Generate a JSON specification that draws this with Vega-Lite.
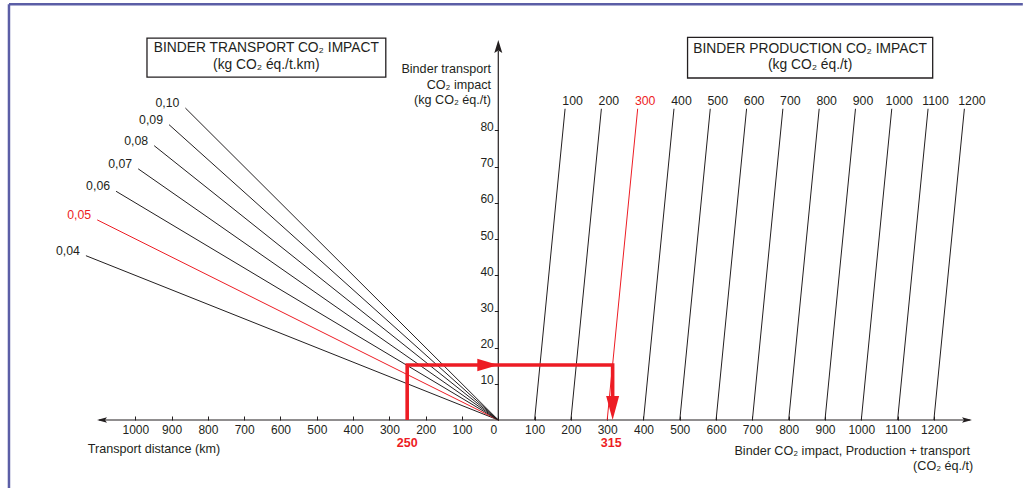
{
  "$schema": "https://vega.github.io/schema/vega-lite/v6.json",
  "usermeta": {"embedOptions": {"actions": false}},
  "autosize": {"type": "none"},
  "width": 875,
  "height": 380,
  "padding": {"left": 97, "top": 40, "right": 51, "bottom": 68},
  "background": "white",
  "config": {"view": {"stroke": null}, "font": "Liberation Sans"},
  "datasets": {
    "transport": [
      {"c": "0,04", "ex": "no", "x": 0, "y": 0}, {"c": "0,04", "ex": "no", "x": -1136, "y": 45.4},
      {"c": "0,05", "ex": "yes", "x": 0, "y": 0}, {"c": "0,05", "ex": "yes", "x": -1105, "y": 55.3},
      {"c": "0,06", "ex": "no", "x": 0, "y": 0}, {"c": "0,06", "ex": "no", "x": -1053, "y": 63.2},
      {"c": "0,07", "ex": "no", "x": 0, "y": 0}, {"c": "0,07", "ex": "no", "x": -992, "y": 69.4},
      {"c": "0,08", "ex": "no", "x": 0, "y": 0}, {"c": "0,08", "ex": "no", "x": -948, "y": 75.8},
      {"c": "0,09", "ex": "no", "x": 0, "y": 0}, {"c": "0,09", "ex": "no", "x": -907, "y": 81.6},
      {"c": "0,10", "ex": "no", "x": 0, "y": 0}, {"c": "0,10", "ex": "no", "x": -862, "y": 86.2}
    ],
    "production": [
      {"p": "100", "ex": "no", "x": 100, "y": 0}, {"p": "100", "ex": "no", "x": 184, "y": 86},
      {"p": "200", "ex": "no", "x": 200, "y": 0}, {"p": "200", "ex": "no", "x": 284, "y": 86},
      {"p": "300", "ex": "yes", "x": 300, "y": 0}, {"p": "300", "ex": "yes", "x": 384, "y": 86},
      {"p": "400", "ex": "no", "x": 400, "y": 0}, {"p": "400", "ex": "no", "x": 484, "y": 86},
      {"p": "500", "ex": "no", "x": 500, "y": 0}, {"p": "500", "ex": "no", "x": 584, "y": 86},
      {"p": "600", "ex": "no", "x": 600, "y": 0}, {"p": "600", "ex": "no", "x": 684, "y": 86},
      {"p": "700", "ex": "no", "x": 700, "y": 0}, {"p": "700", "ex": "no", "x": 784, "y": 86},
      {"p": "800", "ex": "no", "x": 800, "y": 0}, {"p": "800", "ex": "no", "x": 884, "y": 86},
      {"p": "900", "ex": "no", "x": 900, "y": 0}, {"p": "900", "ex": "no", "x": 984, "y": 86},
      {"p": "1000", "ex": "no", "x": 1000, "y": 0}, {"p": "1000", "ex": "no", "x": 1084, "y": 86},
      {"p": "1100", "ex": "no", "x": 1100, "y": 0}, {"p": "1100", "ex": "no", "x": 1184, "y": 86},
      {"p": "1200", "ex": "no", "x": 1200, "y": 0}, {"p": "1200", "ex": "no", "x": 1284, "y": 86}
    ],
    "redpath": [
      {"s": 1, "x": -251, "y": 0}, {"s": 2, "x": -251, "y": 15.2},
      {"s": 3, "x": 315, "y": 15.2}, {"s": 4, "x": 315, "y": 5}
    ],
    "frame": [
      {"x": -1348, "x2": 1445, "y": 114.9, "y2": 114.9},
      {"x": -1348, "x2": -1348, "y": 114.9, "y2": -18.8}
    ],
    "axislines": [
      {"x": -1100, "x2": 1300, "y": 0, "y2": 0},
      {"x": 0, "x2": 0, "y": 0, "y2": 102}
    ],
    "boxes": [
      {"x": -967.8, "x2": -309.9, "y": 105.5, "y2": 94.75},
      {"x": 521.4, "x2": 1196.7, "y": 105.7, "y2": 94.5}
    ],
    "boxtitles": [
      {"x": -639, "y": 102.7, "label": "BINDER TRANSPORT CO₂ IMPACT"},
      {"x": -639, "y": 98.2, "label": "(kg CO₂ éq./t.km)"},
      {"x": 859, "y": 102.5, "label": "BINDER PRODUCTION CO₂ IMPACT"},
      {"x": 859, "y": 98.0, "label": "(kg CO₂ éq./t)"}
    ],
    "ytitle": [
      {"x": -20, "y": 97.0, "label": "Binder transport"},
      {"x": -20, "y": 92.6, "label": "CO₂ impact"},
      {"x": -20, "y": 88.4, "label": "(kg CO₂ éq./t)"}
    ],
    "xtitleleft": [
      {"x": -1131, "y": -8.0, "label": "Transport distance (km)"}
    ],
    "xtitleright": [
      {"x": 1299.4, "y": -8.6, "label": "Binder CO₂ impact, Production + transport"},
      {"x": 1308.5, "y": -12.7, "label": "(CO₂ éq./t)"}
    ],
    "redlabels": [
      {"x": -251, "y": -6.3, "label": "250"},
      {"x": 311, "y": -6.3, "label": "315"}
    ]
  },
  "encoding": {
    "x": {
      "field": "x", "type": "quantitative",
      "scale": {"domain": [-1105.5, 1305], "nice": false, "zero": false},
      "axis": {
        "title": null, "domain": false, "grid": false,
        "values": [-1000, -900, -800, -700, -600, -500, -400, -300, -200, -100, 0, 100, 200, 300, 400, 500, 600, 700, 800, 900, 1000, 1100, 1200],
        "labelExpr": "'' + abs(datum.value)",
        "tickSize": -4, "tickColor": "#231f20", "tickWidth": 1,
        "labelPadding": 8, "labelFontSize": 12, "labelColor": "#231f20",
        "labelFlush": false, "labelOverlap": false,
        "labelOffset": {"condition": {"test": "datum.value === 0", "value": -5}, "value": 0}
      }
    },
    "y": {
      "field": "y", "type": "quantitative",
      "scale": {"domain": [0, 105], "nice": false, "zero": false},
      "axis": {
        "title": null, "domain": false, "grid": false, "orient": "left", "offset": -401.3,
        "values": [10, 20, 30, 40, 50, 60, 70, 80],
        "tickSize": 4, "tickColor": "#231f20", "tickWidth": 1,
        "labelPadding": 1, "labelBaseline": "alphabetic", "labelFontSize": 12, "labelColor": "#231f20",
        "labelFlush": false, "labelOverlap": false
      }
    }
  },
  "layer": [
    {
      "data": {"name": "frame"},
      "mark": {"type": "rule", "color": "#5b5ea6", "strokeWidth": 2.5},
      "encoding": {"x2": {"field": "x2"}, "y2": {"field": "y2"}}
    },
    {
      "data": {"name": "boxes"},
      "mark": {"type": "rect", "fill": "white", "stroke": "#231f20", "strokeWidth": 1.3},
      "encoding": {"x2": {"field": "x2"}, "y2": {"field": "y2"}}
    },
    {
      "data": {"name": "axislines"},
      "mark": {"type": "rule", "color": "#231f20", "strokeWidth": 1.2},
      "encoding": {"x2": {"field": "x2"}, "y2": {"field": "y2"}}
    },
    {
      "data": {"name": "transport"},
      "mark": {"type": "line", "strokeWidth": 1},
      "encoding": {
        "detail": {"field": "c"},
        "color": {"field": "ex", "type": "nominal", "scale": {"domain": ["no", "yes"], "range": ["#231f20", "#ed1c24"]}, "legend": null}
      }
    },
    {
      "data": {"name": "production"},
      "mark": {"type": "line", "strokeWidth": 1},
      "encoding": {
        "detail": {"field": "p"},
        "color": {"field": "ex", "type": "nominal", "scale": {"domain": ["no", "yes"], "range": ["#231f20", "#ed1c24"]}, "legend": null}
      }
    },
    {
      "data": {"name": "transport"},
      "transform": [{"filter": "datum.y > 0"}],
      "mark": {"type": "text", "align": "right", "baseline": "middle", "dx": -6, "dy": -5, "fontSize": 12.3},
      "encoding": {
        "text": {"field": "c"},
        "color": {"field": "ex", "type": "nominal", "scale": {"domain": ["no", "yes"], "range": ["#231f20", "#ed1c24"]}, "legend": null}
      }
    },
    {
      "data": {"name": "production"},
      "transform": [{"filter": "datum.y > 0"}],
      "mark": {"type": "text", "align": "center", "baseline": "middle", "dx": 7.5, "dy": -8, "fontSize": 12.3},
      "encoding": {
        "text": {"field": "p"},
        "color": {"field": "ex", "type": "nominal", "scale": {"domain": ["no", "yes"], "range": ["#231f20", "#ed1c24"]}, "legend": null}
      }
    },
    {
      "data": {"name": "redpath"},
      "mark": {"type": "line", "color": "#ed1c24", "strokeWidth": 3.6, "strokeJoin": "miter", "strokeCap": "butt"},
      "encoding": {"order": {"field": "s", "type": "quantitative"}}
    },
    {
      "data": {"values": [{"x": -1105.5, "y": 0}]},
      "mark": {"type": "point", "shape": "M0,0L2,-0.55L1.6,0L2,0.55Z", "filled": true, "size": 100, "color": "#231f20", "opacity": 1, "strokeWidth": 0}
    },
    {
      "data": {"values": [{"x": 1305, "y": 0}]},
      "mark": {"type": "point", "shape": "M0,0L-2,-0.55L-1.6,0L-2,0.55Z", "filled": true, "size": 100, "color": "#231f20", "opacity": 1, "strokeWidth": 0}
    },
    {
      "data": {"values": [{"x": 0, "y": 105}]},
      "mark": {"type": "point", "shape": "M0,0L-0.8,2.6L0,2.1L0.8,2.6Z", "filled": true, "size": 100, "color": "#231f20", "opacity": 1, "strokeWidth": 0}
    },
    {
      "data": {"values": [{"x": 0, "y": 15.2}]},
      "mark": {"type": "point", "shape": "M0,0L-4.2,-1.25L-4.2,1.25Z", "filled": true, "size": 100, "color": "#ed1c24", "opacity": 1, "strokeWidth": 0}
    },
    {
      "data": {"values": [{"x": 315, "y": 0}]},
      "mark": {"type": "point", "shape": "M0,0L-1.3,-4.8L1.3,-4.8Z", "filled": true, "size": 100, "color": "#ed1c24", "opacity": 1, "strokeWidth": 0}
    },
    {
      "data": {"name": "boxtitles"},
      "mark": {"type": "text", "align": "center", "baseline": "middle", "fontSize": 13.8, "color": "#231f20"},
      "encoding": {"text": {"field": "label"}}
    },
    {
      "data": {"name": "ytitle"},
      "mark": {"type": "text", "align": "right", "baseline": "middle", "fontSize": 12.6, "color": "#231f20"},
      "encoding": {"text": {"field": "label"}}
    },
    {
      "data": {"name": "xtitleleft"},
      "mark": {"type": "text", "align": "left", "baseline": "middle", "fontSize": 12.6, "color": "#231f20"},
      "encoding": {"text": {"field": "label"}}
    },
    {
      "data": {"name": "xtitleright"},
      "mark": {"type": "text", "align": "right", "baseline": "middle", "fontSize": 12.6, "color": "#231f20"},
      "encoding": {"text": {"field": "label"}}
    },
    {
      "data": {"name": "redlabels"},
      "mark": {"type": "text", "align": "center", "baseline": "middle", "fontSize": 12.5, "fontWeight": "bold", "color": "#ed1c24"},
      "encoding": {"text": {"field": "label"}}
    }
  ]
}
